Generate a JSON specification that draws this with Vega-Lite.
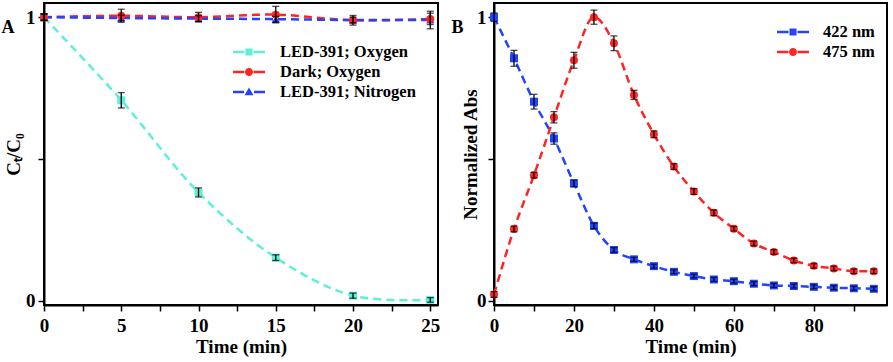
{
  "$schema": "https://vega.github.io/schema/vega-lite/v6.json",
  "padding": {"left": 0, "top": 2, "right": 5, "bottom": 0},
  "background": "white",
  "datasets": {
    "a": [
      {"t": 0, "series": "LED-391; Oxygen", "v": 1.0, "err": 0.012},
      {"t": 5, "series": "LED-391; Oxygen", "v": 0.707, "err": 0.027},
      {"t": 10, "series": "LED-391; Oxygen", "v": 0.382, "err": 0.016},
      {"t": 15, "series": "LED-391; Oxygen", "v": 0.152, "err": 0.01},
      {"t": 20, "series": "LED-391; Oxygen", "v": 0.018, "err": 0.009},
      {"t": 25, "series": "LED-391; Oxygen", "v": 0.003, "err": 0.008},
      {"t": 0, "series": "Dark; Oxygen", "v": 1.0, "err": 0.012},
      {"t": 5, "series": "Dark; Oxygen", "v": 1.005, "err": 0.023},
      {"t": 10, "series": "Dark; Oxygen", "v": 1.0, "err": 0.017},
      {"t": 15, "series": "Dark; Oxygen", "v": 1.009, "err": 0.029},
      {"t": 20, "series": "Dark; Oxygen", "v": 0.989, "err": 0.017},
      {"t": 25, "series": "Dark; Oxygen", "v": 0.994, "err": 0.02},
      {"t": 0, "series": "LED-391; Nitrogen", "v": 1.0, "err": 0.01},
      {"t": 5, "series": "LED-391; Nitrogen", "v": 0.997, "err": 0.01},
      {"t": 10, "series": "LED-391; Nitrogen", "v": 0.995, "err": 0.01},
      {"t": 15, "series": "LED-391; Nitrogen", "v": 0.993, "err": 0.01},
      {"t": 20, "series": "LED-391; Nitrogen", "v": 0.99, "err": 0.01},
      {"t": 25, "series": "LED-391; Nitrogen", "v": 0.99, "err": 0.031}
    ],
    "b": [
      {"t": 0, "series": "422 nm", "v": 1.0, "err": 0.015},
      {"t": 5, "series": "422 nm", "v": 0.855, "err": 0.028},
      {"t": 10, "series": "422 nm", "v": 0.702, "err": 0.026},
      {"t": 15, "series": "422 nm", "v": 0.572, "err": 0.02},
      {"t": 20, "series": "422 nm", "v": 0.414, "err": 0.012},
      {"t": 25, "series": "422 nm", "v": 0.264, "err": 0.01},
      {"t": 30, "series": "422 nm", "v": 0.179, "err": 0.008},
      {"t": 35, "series": "422 nm", "v": 0.146, "err": 0.007},
      {"t": 40, "series": "422 nm", "v": 0.122, "err": 0.007},
      {"t": 45, "series": "422 nm", "v": 0.102, "err": 0.007},
      {"t": 50, "series": "422 nm", "v": 0.087, "err": 0.007},
      {"t": 55, "series": "422 nm", "v": 0.075, "err": 0.007},
      {"t": 60, "series": "422 nm", "v": 0.069, "err": 0.007},
      {"t": 65, "series": "422 nm", "v": 0.06, "err": 0.007},
      {"t": 70, "series": "422 nm", "v": 0.054, "err": 0.007},
      {"t": 75, "series": "422 nm", "v": 0.052, "err": 0.007},
      {"t": 80, "series": "422 nm", "v": 0.049, "err": 0.007},
      {"t": 85, "series": "422 nm", "v": 0.046, "err": 0.007},
      {"t": 90, "series": "422 nm", "v": 0.044, "err": 0.007},
      {"t": 95, "series": "422 nm", "v": 0.042, "err": 0.007},
      {"t": 0, "series": "475 nm", "v": 0.022, "err": 0.01},
      {"t": 5, "series": "475 nm", "v": 0.253, "err": 0.01},
      {"t": 10, "series": "475 nm", "v": 0.443, "err": 0.01},
      {"t": 15, "series": "475 nm", "v": 0.647, "err": 0.02},
      {"t": 20, "series": "475 nm", "v": 0.848, "err": 0.028},
      {"t": 25, "series": "475 nm", "v": 1.0, "err": 0.025},
      {"t": 30, "series": "475 nm", "v": 0.908, "err": 0.026},
      {"t": 35, "series": "475 nm", "v": 0.726, "err": 0.016},
      {"t": 40, "series": "475 nm", "v": 0.587, "err": 0.012},
      {"t": 45, "series": "475 nm", "v": 0.473, "err": 0.01},
      {"t": 50, "series": "475 nm", "v": 0.385, "err": 0.01},
      {"t": 55, "series": "475 nm", "v": 0.31, "err": 0.01},
      {"t": 60, "series": "475 nm", "v": 0.254, "err": 0.008},
      {"t": 65, "series": "475 nm", "v": 0.202, "err": 0.008},
      {"t": 70, "series": "475 nm", "v": 0.172, "err": 0.008},
      {"t": 75, "series": "475 nm", "v": 0.142, "err": 0.008},
      {"t": 80, "series": "475 nm", "v": 0.123, "err": 0.008},
      {"t": 85, "series": "475 nm", "v": 0.114, "err": 0.008},
      {"t": 90, "series": "475 nm", "v": 0.104, "err": 0.008},
      {"t": 95, "series": "475 nm", "v": 0.104, "err": 0.008}
    ]
  },
  "hconcat": [
    {
      "width": 394,
      "height": 302,
      "data": {"name": "a"},
      "title": {"text": "A", "anchor": "start", "frame": "bounds", "orient": "top", "fontSize": 18, "fontWeight": "bold", "font": "Liberation Serif", "color": "black", "offset": 0, "dy": 52, "dx": -3, "baseline": "bottom"},
      "encoding": {
        "x": {"field": "t", "type": "quantitative", "scale": {"domain": [0, 25.5], "nice": false, "zero": false},
          "axis": {"title": "Time (min)", "values": [0, 2.5, 5, 7.5, 10, 12.5, 15, 17.5, 20, 22.5, 25], "labelExpr": "datum.value % 5 === 0 ? datum.label : ''"}},
        "y": {"field": "v", "type": "quantitative", "scale": {"domain": [-0.015, 1.05], "nice": false, "zero": false},
          "axis": {"title": "Cₜ/C₀", "values": [0, 0.5, 1], "labelExpr": "datum.value === 0.5 ? '' : format(datum.value, 'd')", "titlePadding": 2}},
        "color": {"field": "series", "type": "nominal", "scale": {"domain": ["LED-391; Oxygen", "Dark; Oxygen", "LED-391; Nitrogen"], "range": ["#5DEFD8", "#FF2424", "#2244FF"]},
          "legend": {"title": null, "orient": "none", "legendX": 195, "legendY": 39, "symbolSize": 400, "labelOffset": 21, "rowPadding": 1, "padding": 0,
            "labelFont": "Liberation Serif", "labelFontSize": 16.5, "labelFontWeight": "bold", "labelColor": "black", "labelLimit": 300, "symbolStrokeWidth": 0, "symbolOpacity": 1}}
      },
      "layer": [
        {
          "mark": {"type": "line", "strokeDash": [8, 5], "strokeWidth": 2.5, "interpolate": "catmull-rom"}
        },
        {
          "transform": [{"filter": "datum.series === 'LED-391; Oxygen'"}],
          "mark": {"type": "point", "filled": true, "size": 64, "opacity": 1, "shape": "square"}
        },
        {
          "transform": [{"filter": "datum.series === 'LED-391; Nitrogen'"}],
          "mark": {"type": "point", "filled": true, "size": 64, "opacity": 1, "shape": "triangle-up"}
        },
        {
          "transform": [{"filter": "datum.series === 'Dark; Oxygen'"}],
          "mark": {"type": "point", "filled": true, "size": 64, "opacity": 1, "shape": "circle"}
        },
        {
          "mark": {"type": "errorbar", "ticks": {"size": 7, "thickness": 1.3}, "rule": {"strokeWidth": 1.3}},
          "encoding": {
            "yError": {"field": "err"},
            "color": {"value": "black"},
            "detail": {"field": "series"}
          }
        },
        {
          "transform": [{"filter": "false"}],
          "mark": {"type": "point", "filled": true, "opacity": 1},
          "encoding": {
            "shape": {"field": "series", "type": "nominal",
              "scale": {"domain": ["LED-391; Oxygen", "Dark; Oxygen", "LED-391; Nitrogen"],
                "range": ["M-1.6,-0.12H-0.45V0.12H-1.6Z M0.45,-0.12H1.6V0.12H0.45Z M-0.35,-0.35H0.35V0.35H-0.35Z", "M-1.6,-0.12H-0.45V0.12H-1.6Z M0.45,-0.12H1.6V0.12H0.45Z M0.4,0A0.4,0.4 0 1,1 -0.4,0A0.4,0.4 0 1,1 0.4,0Z", "M-1.6,-0.12H-0.5V0.12H-1.6Z M0.5,-0.12H1.6V0.12H0.5Z M0,-0.45L0.45,0.32H-0.45Z"]},
              "legend": {"title": null, "orient": "none", "legendX": 195, "legendY": 39, "symbolSize": 400, "labelOffset": 21, "rowPadding": 1, "padding": 0,
                "labelFont": "Liberation Serif", "labelFontSize": 16.5, "labelFontWeight": "bold", "labelColor": "black", "labelLimit": 300, "symbolStrokeWidth": 0, "symbolOpacity": 1}}
          }
        }
      ]
    },
    {
      "width": 393,
      "height": 302,
      "data": {"name": "b"},
      "title": {"text": "B", "anchor": "start", "frame": "bounds", "orient": "top", "fontSize": 18, "fontWeight": "bold", "font": "Liberation Serif", "color": "black", "offset": 0, "dy": 52, "dx": -10, "baseline": "bottom"},
      "encoding": {
        "x": {"field": "t", "type": "quantitative", "scale": {"domain": [0, 98.3], "nice": false, "zero": false},
          "axis": {"title": "Time (min)", "values": [0, 10, 20, 30, 40, 50, 60, 70, 80, 90], "labelExpr": "datum.value % 20 === 0 ? datum.label : ''"}},
        "y": {"field": "v", "type": "quantitative", "scale": {"domain": [-0.015, 1.05], "nice": false, "zero": false},
          "axis": {"title": "Normalized Abs", "values": [0, 0.5, 1], "labelExpr": "datum.value === 0.5 ? '' : format(datum.value, 'd')", "titlePadding": -4, "labelPadding": 2}},
        "color": {"field": "series", "type": "nominal", "scale": {"domain": ["422 nm", "475 nm"], "range": ["#2244FF", "#FF2424"]},
          "legend": {"title": null, "orient": "none", "legendX": 289, "legendY": 19, "symbolSize": 400, "labelOffset": 20, "rowPadding": 1, "padding": 0,
            "labelFont": "Liberation Serif", "labelFontSize": 16.5, "labelFontWeight": "bold", "labelColor": "black", "labelLimit": 300, "symbolStrokeWidth": 0, "symbolOpacity": 1}}
      },
      "layer": [
        {
          "mark": {"type": "line", "strokeDash": [8, 5], "strokeWidth": 2.5, "interpolate": "monotone"}
        },
        {
          "transform": [{"filter": "datum.series === '422 nm'"}],
          "mark": {"type": "point", "filled": true, "size": 64, "opacity": 1, "shape": "square"}
        },
        {
          "transform": [{"filter": "datum.series === '475 nm'"}],
          "mark": {"type": "point", "filled": true, "size": 64, "opacity": 1, "shape": "circle"}
        },
        {
          "mark": {"type": "errorbar", "ticks": {"size": 7, "thickness": 1.3}, "rule": {"strokeWidth": 1.3}},
          "encoding": {
            "yError": {"field": "err"},
            "color": {"value": "black"},
            "detail": {"field": "series"}
          }
        },
        {
          "transform": [{"filter": "false"}],
          "mark": {"type": "point", "filled": true, "opacity": 1},
          "encoding": {
            "shape": {"field": "series", "type": "nominal",
              "scale": {"domain": ["422 nm", "475 nm"],
                "range": ["M-1.6,-0.12H-0.45V0.12H-1.6Z M0.45,-0.12H1.6V0.12H0.45Z M-0.35,-0.35H0.35V0.35H-0.35Z", "M-1.6,-0.12H-0.45V0.12H-1.6Z M0.45,-0.12H1.6V0.12H0.45Z M0.4,0A0.4,0.4 0 1,1 -0.4,0A0.4,0.4 0 1,1 0.4,0Z"]},
              "legend": {"title": null, "orient": "none", "legendX": 289, "legendY": 19, "symbolSize": 400, "labelOffset": 20, "rowPadding": 1, "padding": 0,
                "labelFont": "Liberation Serif", "labelFontSize": 16.5, "labelFontWeight": "bold", "labelColor": "black", "labelLimit": 300, "symbolStrokeWidth": 0, "symbolOpacity": 1}}
          }
        }
      ]
    }
  ],
  "spacing": 9,
  "resolve": {"scale": {"color": "independent", "shape": "independent", "x": "independent", "y": "independent"}, "legend": {"color": "independent", "shape": "independent"}},
  "config": {
    "font": "Liberation Serif",
    "view": {"stroke": "black", "strokeWidth": 2},
    "axis": {
      "grid": false,
      "labelFont": "Liberation Serif", "labelFontSize": 19, "labelFontWeight": "bold", "labelColor": "black",
      "titleFont": "Liberation Serif", "titleFontSize": 19, "titleFontWeight": "bold", "titleColor": "black",
      "domainColor": "black", "domainWidth": 2, "tickColor": "black", "tickWidth": 1.5, "tickSize": 6,
      "labelPadding": 3, "titlePadding": 4, "labelFlush": false, "labelOverlap": false
    },
    "axisX": {"labelPadding": 5, "titlePadding": 2}
  }
}
